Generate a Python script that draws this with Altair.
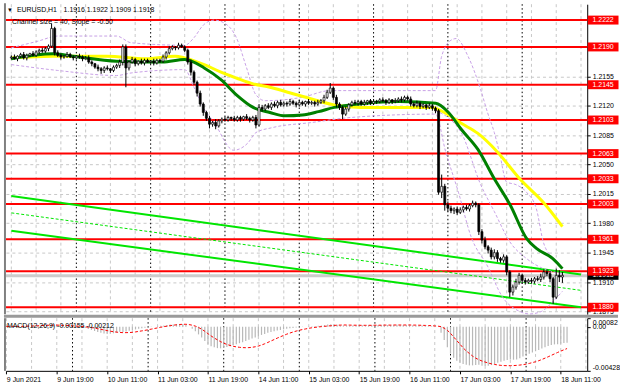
import altair as alt
import pandas as pd

FONT = "Liberation Sans"
PIP = 0.0001
BASE = 1.18  # candle / MA values below are pips above 1.1800

# ---------------- candles (H1 bars, index 0 = 9 Jun 03:00) ----------------
first_open = 377
closes = [
    378, 376, 379, 381, 377, 380, 382, 380, 384, 386,
    385, 388, 391, 412, 383, 380, 378, 379, 381, 378,
    377, 379, 378, 376, 377, 372, 370, 366, 364, 362,
    365, 364, 362, 366, 368, 372, 390, 365, 372, 375,
    370, 373, 371, 374, 372, 373, 371, 374, 373, 378,
    383, 388, 390, 389, 392, 390, 386, 372, 360, 348,
    335, 322, 312, 305, 298, 300, 296, 302, 304, 303,
    306, 305, 303, 306, 304, 307, 305, 303, 306, 297,
    318, 316, 320, 318, 322, 320, 324, 321, 323, 322,
    325, 323, 321, 324, 322, 325, 323, 324, 322, 324,
    326, 330, 336, 341, 330, 322, 318, 310, 316, 321,
    324, 323, 325, 322, 324, 326, 323, 325, 325, 327,
    326, 324, 327, 325, 326, 328, 327, 330, 328, 322,
    320, 323, 319, 321, 318, 320, 317, 314, 217, 224,
    202, 198, 195, 197, 193, 196, 199, 197, 201, 204,
    202, 170, 160, 152, 148, 140, 145, 138, 136, 140,
    122, 98, 104, 110, 118, 112, 110, 112, 111, 114,
    113, 116, 122, 120, 114, 92, 118, 116, 118,
]
up_wick = [
    2, 3, 1, 2, 3, 2, 1, 3, 2, 2,
    3, 2, 2, 6, 2, 3, 2, 1, 3, 2,
    2, 1, 3, 2, 2, 3, 2, 1, 3, 2,
    2, 3, 1, 2, 2, 3, 3, 3, 2, 3,
    2, 1, 3, 2, 2, 1, 3, 2, 2, 3,
    2, 3, 2, 1, 3, 2, 2, 2, 3, 2,
    2, 3, 2, 2, 3, 2, 4, 2, 2, 3,
    2, 1, 3, 2, 2, 1, 3, 2, 2, 3,
    4, 3, 2, 3, 2, 3, 2, 3, 2, 2,
    3, 2, 2, 3, 2, 1, 3, 2, 2, 3,
    2, 3, 3, 6, 2, 3, 2, 2, 3, 2,
    2, 3, 2, 2, 3, 1, 2, 3, 2, 2,
    3, 2, 2, 1, 3, 2, 3, 2, 2, 3,
    2, 3, 2, 2, 1, 3, 2, 2, 2, 14,
    3, 4, 3, 2, 3, 3, 2, 3, 2, 3,
    2, 2, 3, 4, 2, 3, 4, 3, 2, 3,
    2, 2, 3, 4, 3, 2, 3, 2, 3, 2,
    3, 4, 3, 3, 3, 2, 8, 6, 4,
]
dn_wick = [
    2, 1, 3, 2, 2, 3, 2, 1, 2, 3,
    2, 2, 3, 2, 3, 2, 3, 2, 2, 1,
    3, 2, 2, 3, 1, 2, 3, 2, 3, 4,
    3, 2, 3, 2, 2, 3, 4, 23, 3, 2,
    3, 2, 2, 3, 1, 2, 3, 2, 2, 2,
    3, 2, 2, 3, 2, 1, 2, 3, 4, 3,
    4, 3, 4, 3, 5, 3, 4, 2, 3, 2,
    2, 3, 2, 2, 3, 2, 2, 3, 2, 4,
    2, 3, 2, 2, 3, 2, 3, 2, 2, 3,
    2, 2, 3, 2, 2, 3, 2, 2, 3, 2,
    2, 3, 2, 2, 3, 4, 3, 6, 2, 3,
    2, 2, 3, 2, 2, 3, 2, 2, 3, 2,
    2, 3, 2, 3, 2, 2, 3, 2, 2, 3,
    2, 2, 3, 2, 3, 2, 3, 3, 3, 7,
    7, 4, 3, 4, 3, 2, 3, 2, 3, 2,
    3, 4, 4, 3, 4, 3, 3, 4, 3, 3,
    4, 6, 4, 3, 3, 4, 3, 2, 3, 3,
    2, 3, 3, 3, 4, 8, 2, 6, 7,
]

# ---------------- MACD (units of 0.00001) ----------------
macd_main = [
    5, 3, 2, 4, 2, 3, 6, 8, 10, 12, 14, 16, 18, 22, 15, 12, 10, 8, 6, 4, 2, 0, -2, -3, -4,
    -12, -22, -32, -42, -52, -60, -66, -70, -68, -64, -60, -50, -52,
    -46, -40, -33, -27, -21, -16, -11, -7, -3, 0, 3,
    8, 12, 16, 20, 22, 25, 26, 24,
    15, 0, -20, -45, -75, -105,
    -140, -170, -190, -200, -208, -210, -205, -198,
    -190, -180, -170, -160, -150, -138, -126, -115, -105, -92,
    -80, -70, -60, -52, -45, -38, -32, -26, -20, -16, -12, -8, -5, -2, 0,
    2, 4, 6, 8, 12, 16, 20, 24, 22, 18, 14, 12, 12, 12, 12, 12, 13, 13, 14, 14,
    14, 15, 15, 15, 16, 16, 17, 17, 18, 17, 16, 15, 14, 13, 12, 11, 10, 8, 6, 4, 2, 0,
    -60, -130, -200, -260, -300, -330, -350, -362, -370, -375, -375, -372, -368,
    -378, -380, -378, -372, -362, -350, -340, -330, -322, -318, -320, -318, -305, -290,
    -275, -262, -250, -238, -225, -212,
    -200, -188, -178, -172, -170, -165, -158, -155,
]
macd_signal = [
    2, 3, 3, 3, 3, 3, 4, 5, 6, 7, 8, 10, 11, 13, 14, 15, 15, 14, 13, 12, 10, 8, 6, 3, 1,
    -2, -5, -9, -14, -20, -26, -32, -38, -44, -49, -53, -56, -58, -58, -57, -55, -51, -46,
    -41, -36, -30, -24, -18, -12,
    -6, 0, 5, 10, 14, 18, 21, 23,
    23, 20, 14, 5, -8, -25,
    -45, -68, -90, -110, -128, -145, -160, -172, -182, -190, -196, -200, -203, -204, -203,
    -200, -195, -188,
    -178, -166, -153, -139, -125, -111, -98, -85, -73, -62, -52, -43, -35, -28, -22,
    -16, -11, -7, -3, 0, 3, 6, 9, 12, 14, 15, 16, 16, 15, 14, 14, 13, 13, 13, 13,
    13, 14, 14, 14, 15, 15, 15, 16, 16, 16, 16, 16, 16, 15, 15, 14, 13, 12, 11, 9, 7, 5,
    0, -15, -35, -65, -100, -135, -170, -205, -235, -260, -285, -305, -320, -333, -343,
    -352, -360, -366, -371, -375, -377, -378, -378, -377, -375, -372, -368, -363, -356,
    -348, -340, -330, -318, -305, -292, -278, -264, -250, -237, -224, -212,
]

# ---------------- moving averages and bands (bar index, pips) ----------------
yellow_bar = [0, 13.4, 30.8, 43.4, 52.9, 56.0, 62.3, 67.7, 72.7, 78.1, 83.5, 88.5, 97.0,
              104.3, 112.8, 135.8, 140.3, 145.3, 150.7, 157.0, 164.2, 171.8, 178]
yellow_pips = [377, 379, 379, 376, 379, 377, 369, 360, 353, 346, 342, 337, 328,
               321, 318, 318, 311, 299, 287, 265, 233, 205, 176]
green_bar = [0, 13.4, 20, 34, 48.8, 56, 62.3, 67.7, 72.7, 78.1, 83.5, 88.5, 94, 99.2,
             104.3, 109.7, 125.4, 137.1, 141.2, 145.3, 150.7, 156.0, 161.1, 166.4,
             169.6, 174.9, 178]
green_pips = [376, 382, 379, 373, 372, 375, 365, 351, 333, 318, 312, 308, 309, 313,
              318, 321, 325, 323, 312, 292, 268, 233, 202, 162, 150, 138, 126]
band_up_bar = [0, 8.7, 15, 34, 38.7, 56, 59, 62, 65.5, 69, 72.7, 76, 79, 82, 93.9, 103,
               137, 139, 142, 143.7, 147.5, 151.6, 153.8, 156, 157.6, 160, 163, 166.4,
               169.6, 171.8, 175, 178]
band_up_pips = [389, 397, 403, 403, 395, 392, 401, 416, 422, 418, 401, 365, 333, 326, 330,
                338, 338, 379, 398, 400, 379, 339, 312, 288, 265, 229, 226, 217, 197,
                158, 138, 126]
band_lo_bar = [0, 15, 34, 38.7, 56, 59, 62, 65.5, 71.8, 76.5, 79, 84.4, 97, 109.7, 137,
               140.3, 144.4, 148.5, 153.8, 158.5, 164.2, 167.4, 171.2, 175, 178]
band_lo_pips = [369, 362, 356, 359, 363, 342, 318, 300, 267, 276, 288, 294, 300, 306, 310,
                265, 217, 164, 129, 93, 75, 72, 75, 87, 99]
band_mid_bar = [137, 141, 145.3, 151.6, 156, 161, 166.4, 171.8, 178]
band_mid_pips = [314, 306, 288, 226, 194, 158, 138, 126, 120]

# ---------------- levels, channel, axes ----------------
levels = [1.2222, 1.2190, 1.2145, 1.2103, 1.2063, 1.2033, 1.2003, 1.1961, 1.1923, 1.1880]
axis_prices = [1.2190, 1.2155, 1.2120, 1.2085, 1.2050, 1.2015, 1.1980, 1.1945, 1.1910, 1.1875]
channel_bars = [0, 184]
channel_upper = [1.20125, 1.1919]
channel_mid = [1.19924, 1.19001]
channel_lower = [1.19711, 1.1880]
last_price = 1.1918
bid_price = 1.19175
day_start_bars = [21, 45, 69, 93, 117, 141, 165]
grid_bars = [0, 8, 16, 24, 32, 40, 48, 56, 64, 72, 80, 88, 96, 104, 112, 120, 128, 136,
             144, 152, 160, 168, 176, 184]
time_bars = [0, 16, 32, 48, 64, 80, 96, 112, 128, 144, 160, 176]
time_labels = ["9 Jun 2021", "9 Jun 19:00", "10 Jun 11:00", "11 Jun 03:00", "11 Jun 19:00",
               "14 Jun 11:00", "15 Jun 03:00", "15 Jun 19:00", "16 Jun 11:00",
               "17 Jun 03:00", "17 Jun 19:00", "18 Jun 11:00"]
macd_axis_values = [0.00082, 0.0, -0.00428]
macd_axis_labels = ["0.00082", "0.00", "-0.00428"]
header_symbol = "EURUSD,H1"
header_ohlc = "1.1916 1.1922 1.1909 1.1918"
channel_text = "Channel size = 40, Slope = -0.50"
macd_text = "MACD(12,26,9) -0.00155 -0.00212"

# ---------------- data frames ----------------
opens = [first_open] + closes[:-1]
candles = pd.DataFrame([
    {"i": i, "o": BASE + o * PIP, "c": BASE + c * PIP,
     "h": BASE + (max(o, c) + u) * PIP, "l": BASE + (min(o, c) - d) * PIP,
     "bull": c >= o}
    for i, (o, c, u, d) in enumerate(zip(opens, closes, up_wick, dn_wick))
])
def line_df(bars, pips):
    return pd.DataFrame({"i": bars, "p": [BASE + v * PIP for v in pips]})

macd_df = pd.DataFrame({"i": list(range(len(macd_main))), "m": [v * 1e-5 for v in macd_main]})
sig_df = pd.DataFrame({"i": list(range(len(macd_signal))), "s": [v * 1e-5 for v in macd_signal]})
levels_df = pd.DataFrame({"lv": levels, "txt": [f"{v:.4f}" for v in levels]})
last_df = pd.DataFrame({"lv": [last_price], "txt": [f"{last_price:.4f}"]})
grid_df = pd.DataFrame({"i": grid_bars})
day_df = pd.DataFrame({"i": day_start_bars})
one = pd.DataFrame({"a": [0]})

# ---------------- scales / axes ----------------
xs = alt.Scale(domain=[-0.13, 184.4], nice=False, zero=False)
ys = alt.Scale(domain=[1.18717, 1.22409], nice=False, zero=False)
ms = alt.Scale(domain=[-0.00428, 0.00082], nice=False, zero=False)

yaxis = alt.Axis(orient="right", values=axis_prices, format=".4f", labelFont=FONT,
                 labelFontSize=7, labelColor="#000", tickColor="#000", tickSize=3,
                 labelPadding=2, domainColor="#000", grid=True, gridColor="#c8c8c8",
                 gridDash=[3, 3], title=None, labelOverlap=False)
m_lab_expr = ("[" + ",".join("'" + s + "'" for s in macd_axis_labels) + "][indexof(["
              + ",".join(repr(v) for v in macd_axis_values) + "], datum.value)]")
maxis = alt.Axis(orient="right", values=macd_axis_values, labelExpr=m_lab_expr,
                 labelFont=FONT, labelFontSize=7, labelColor="#000", tickColor="#000",
                 tickSize=3, labelPadding=2, domainColor="#000", grid=False, title=None,
                 labelOverlap=False, labelFlush=True)
t_lab_expr = ("[" + ",".join("'" + s + "'" for s in time_labels) + "][indexof(["
              + ",".join(str(b) for b in time_bars) + "], datum.value)]")
xaxis_m = alt.Axis(values=time_bars, labelExpr=t_lab_expr, labelAlign="left", labelFont=FONT,
                   labelFontSize=7, labelColor="#000", tickColor="#000", tickSize=3,
                   labelPadding=2, domainColor="#000", grid=False, title=None,
                   labelOverlap=False)

def X(f):
    return alt.X(f, type="quantitative", scale=xs, axis=None)
def Y(f):
    return alt.Y(f, type="quantitative", scale=ys, axis=yaxis)
def XM(f):
    return alt.X(f, type="quantitative", scale=xs, axis=xaxis_m)
def YM(f):
    return alt.Y(f, type="quantitative", scale=ms, axis=maxis)

BOX = "M-1,-0.29L1,-0.29L1,0.29L-1,0.29Z"

# ---------------- main panel ----------------
vgrid = alt.Chart(grid_df).mark_rule(color="#c8c8c8", strokeDash=[3, 3], strokeWidth=1).encode(x=X("i"))
days = alt.Chart(day_df).mark_rule(color="#000", strokeDash=[1.5, 2.5], strokeWidth=1).encode(x=X("i"))
bid = alt.Chart(pd.DataFrame({"lv": [bid_price]})).mark_rule(color="#cccccc", strokeWidth=3).encode(y=Y("lv"))
lv_rules = alt.Chart(levels_df).mark_rule(color="#ff0000", strokeWidth=2).encode(y=Y("lv"))

ch_up = alt.Chart(line_df(channel_bars, [(v - BASE) / PIP for v in channel_upper])).mark_line(
    color="#00e600", strokeWidth=2).encode(x=X("i"), y=Y("p"))
ch_mid = alt.Chart(line_df(channel_bars, [(v - BASE) / PIP for v in channel_mid])).mark_line(
    color="#00e600", strokeWidth=1, strokeDash=[3, 2]).encode(x=X("i"), y=Y("p"))
ch_lo = alt.Chart(line_df(channel_bars, [(v - BASE) / PIP for v in channel_lower])).mark_line(
    color="#00e600", strokeWidth=2).encode(x=X("i"), y=Y("p"))

def band(bars, pips):
    return alt.Chart(line_df(bars, pips)).mark_line(
        color="#c8a0e6", strokeWidth=1, strokeDash=[3, 2], interpolate="monotone"
    ).encode(x=X("i"), y=Y("p"))

ma_yellow = alt.Chart(line_df(yellow_bar, yellow_pips)).mark_line(
    color="#ffff00", strokeWidth=3, interpolate="monotone").encode(x=X("i"), y=Y("p"))
ma_green = alt.Chart(line_df(green_bar, green_pips)).mark_line(
    color="#008000", strokeWidth=3, interpolate="monotone").encode(x=X("i"), y=Y("p"))

wicks = alt.Chart(candles).mark_rule(color="#000", strokeWidth=1).encode(
    x=X("i"), y=Y("l"), y2="h")
bodies = alt.Chart(candles).mark_bar(width=2.0, stroke="#000", strokeWidth=0.7).encode(
    x=X("i"), y=Y("o"), y2="c",
    fill=alt.condition("datum.bull", alt.value("#ffffff"), alt.value("#000000")))

last_box = alt.Chart(last_df).mark_point(shape=BOX, size=961, filled=True, opacity=1,
                                         color="#000", strokeWidth=0).encode(
    x=alt.value(601), y=Y("lv"))
last_txt = alt.Chart(last_df).mark_text(font=FONT, fontSize=7, color="#fff", align="center",
                                        baseline="middle").encode(
    x=alt.value(601), y=Y("lv"), text="txt:N")
lv_box = alt.Chart(levels_df).mark_point(shape=BOX, size=961, filled=True, opacity=1,
                                         color="#ff0000", strokeWidth=0).encode(
    x=alt.value(601), y=Y("lv"))
lv_txt = alt.Chart(levels_df).mark_text(font=FONT, fontSize=7, color="#fff", align="center",
                                        baseline="middle").encode(
    x=alt.value(601), y=Y("lv"), text="txt:N")

def label(txt, x, y, size=7):
    return alt.Chart(pd.DataFrame({"t": [txt]})).mark_text(
        font=FONT, fontSize=size, color="#000", align="left", baseline="middle"
    ).encode(x=alt.value(x), y=alt.value(y), text="t:N")

left_border = alt.Chart(one).mark_rule(color="#808080", strokeWidth=2).encode(
    x=alt.value(-1), y=alt.value(-1), y2=alt.value(312))

main = alt.layer(
    vgrid, days, bid, lv_rules, ch_up, ch_mid, ch_lo,
    band(band_up_bar, band_up_pips), band(band_lo_bar, band_lo_pips),
    band(band_mid_bar, band_mid_pips),
    ma_yellow, ma_green, wicks, bodies,
    last_box, last_txt, lv_box, lv_txt,
    label("\u25bc", 1, 6, 6), label(header_symbol, 11, 6), label(header_ohlc, 58, 6),
    label(channel_text, 6, 18),
    left_border,
).properties(width=585, height=312)

# ---------------- MACD panel ----------------
vgrid_m = alt.Chart(grid_df).mark_rule(color="#c8c8c8", strokeDash=[3, 3], strokeWidth=1).encode(x=XM("i"))
days_m = alt.Chart(day_df).mark_rule(color="#000", strokeDash=[1.5, 2.5], strokeWidth=1).encode(x=XM("i"))
hist = alt.Chart(macd_df).mark_rule(color="#b8b8b8", strokeWidth=1.2).encode(
    x=XM("i"), y=YM("m"), y2=alt.datum(0))
sig = alt.Chart(sig_df).mark_line(color="#ff0000", strokeWidth=1, strokeDash=[3, 2]).encode(
    x=XM("i"), y=YM("s"))
sep = alt.Chart(one).mark_rule(color="#9a9a9a", strokeWidth=3).encode(
    x=alt.value(-2), x2=alt.value(616), y=alt.value(-2))
left_border_m = alt.Chart(one).mark_rule(color="#808080", strokeWidth=2).encode(
    x=alt.value(-1), y=alt.value(0), y2=alt.value(53))

macd = alt.layer(
    vgrid_m, days_m, hist, sig, label(macd_text, 1, 8), sep, left_border_m
).properties(width=585, height=53)

chart = alt.vconcat(main, macd, spacing=4, bounds="flush").properties(
    padding={"left": 2, "top": 1, "right": 0, "bottom": 0},
    background="#ffffff",
).configure_view(stroke=None)

chart.save("out.html", embed_options={"renderer": "svg", "actions": False})
